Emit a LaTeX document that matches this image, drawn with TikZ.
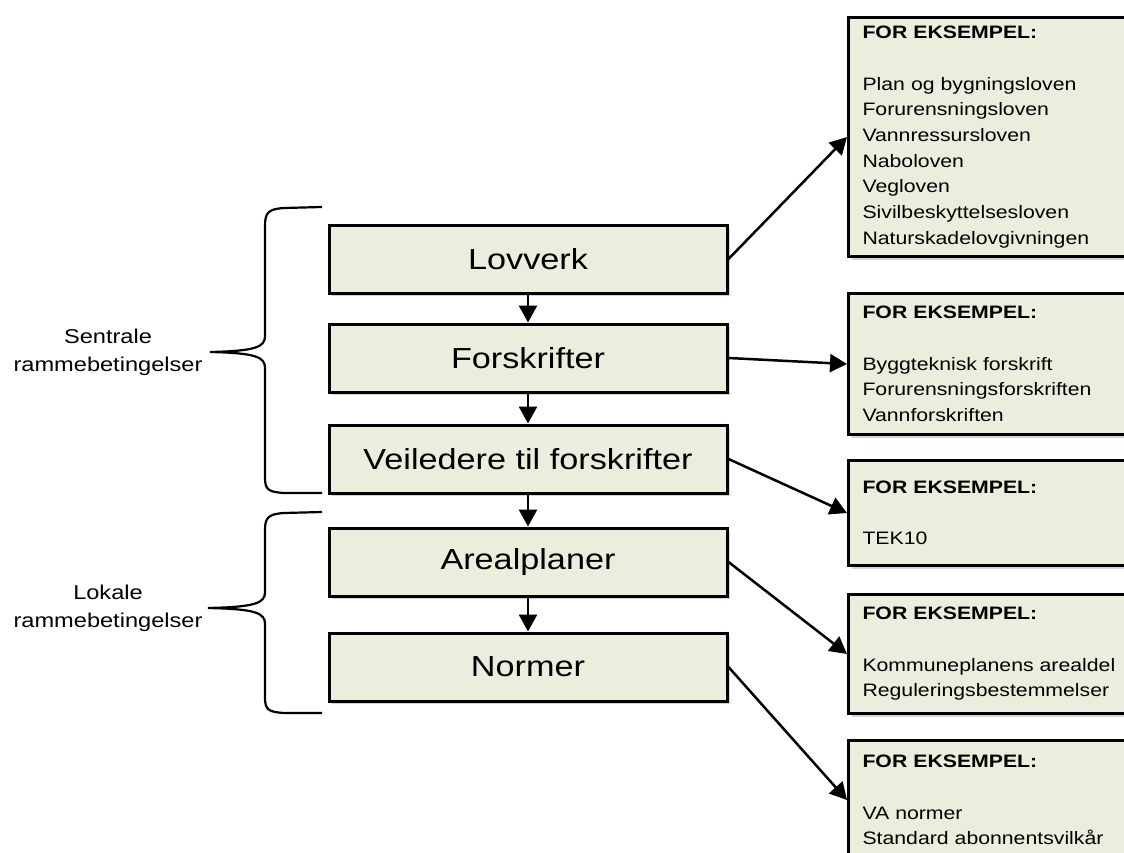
\documentclass[tikz,border=0pt]{standalone}
\usepackage{fontspec}
\setmainfont{Liberation Sans}[FakeStretch=1.18]
\usetikzlibrary{positioning, arrows.meta, shadows}

\definecolor{boxfill}{RGB}{234,238,220}

\begin{document}
\begin{tikzpicture}[x=1pt, y=-1pt, >={Triangle[width=18pt, length=17pt]}]
    \tikzstyle{level} = [draw, line width=3pt, fill=boxfill, minimum width=398pt, minimum height=68pt, font=\fontsize{29}{34}\selectfont, drop shadow={shadow xshift=3pt, shadow yshift=-3pt, opacity=0.35}]
    \tikzstyle{example} = [draw, line width=3pt, fill=boxfill, anchor=north west, text width=290pt, inner xsep=14pt, align=left, font=\fontsize{18}{25.7}\selectfont, drop shadow={shadow xshift=3pt, shadow yshift=-3pt, opacity=0.35}]
    \tikzstyle{group} = [align=center, font=\fontsize{20}{28}\selectfont]
    \tikzstyle{brace} = [line width=2.2pt]

    \useasboundingbox (0,0) rectangle (1124,853);
    \clip (0,0) rectangle (1124,853);

    % levels
    \node[level] (lov) at (528,259) {Lovverk};
    \node[level, below=28pt of lov] (fors) {Forskrifter};
    \node[level, below=30pt of fors] (veil) {Veiledere til forskrifter};
    \node[level, below=32pt of veil] (areal) {Arealplaner};
    \node[level, below=34pt of areal] (norm) {Normer};

    % examples
    \node[example, minimum height=239pt] (ex1) at (847,16) {\textbf{FOR EKSEMPEL:}\\[25.7pt]
        Plan og bygningsloven\\ Forurensningsloven\\ Vannressursloven\\ Naboloven\\
        Vegloven\\ Sivilbeskyttelsesloven\\ Naturskadelovgivningen};
    \node[example, minimum height=141pt] (ex2) at (847,292) {\textbf{FOR EKSEMPEL:}\\[25.7pt]
        Byggteknisk forskrift\\ Forurensningsforskriften\\ Vannforskriften};
    \node[example, minimum height=105pt] (ex3) at (847,459) {\textbf{FOR EKSEMPEL:}\\[25.7pt]
        TEK10};
    \node[example, minimum height=119pt] (ex4) at (847,593) {\textbf{FOR EKSEMPEL:}\\[25.7pt]
        Kommuneplanens arealdel\\ Reguleringsbestemmelser};
    \node[example, minimum height=119pt] (ex5) at (847,739) {\textbf{FOR EKSEMPEL:}\\[25.7pt]
        VA normer\\ Standard abonnentsvilkår};

    \path[->, line width=2.5pt]
        (lov) edge (fors)
        (fors) edge (veil)
        (veil) edge (areal)
        (areal) edge (norm)

        (lov.east) edge (ex1.west)
        (fors.east) edge (ex2.west)
        (veil.east) edge (ex3.west)
        (areal.east) edge (ex4.west)
        (norm.east) edge (ex5.west)
    ;

    % braces
    \coordinate (stip) at (210,352);
    \coordinate (ltip) at (208,608);
    \draw[brace] (322,207) -- (284,208) .. controls (268,209) and (265,213) .. (265,226)
        -- (265,336) .. controls (265,347) and (256,351) .. (stip)
        .. controls (256,353) and (265,357) .. (265,368)
        -- (265,478) .. controls (265,490) and (269,492) .. (284,493) -- (322,493);
    \draw[brace] (322,512) -- (284,513) .. controls (268,514) and (265,518) .. (265,530)
        -- (265,592) .. controls (265,603) and (256,607) .. (ltip)
        .. controls (256,609) and (265,613) .. (265,624)
        -- (265,698) .. controls (265,710) and (269,712) .. (284,713) -- (322,713);

    \node[group, left=4pt of stip] (sentral) {Sentrale\\ rammebetingelser};
    \node[group, left=2pt of ltip] (lokal) {Lokale\\ rammebetingelser};
\end{tikzpicture}
\end{document}
